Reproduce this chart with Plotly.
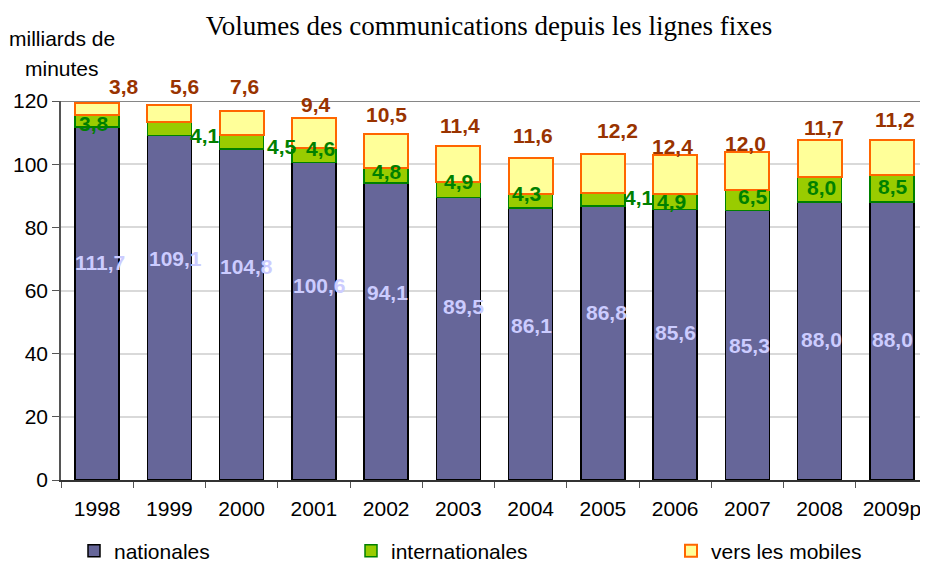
import plotly.graph_objects as go

# ---- data ----
years = ["1998", "1999", "2000", "2001", "2002", "2003", "2004", "2005",
         "2006", "2007", "2008", "2009p"]
nationales = [111.7, 109.1, 104.8, 100.6, 94.1, 89.5, 86.1, 86.8, 85.6, 85.3, 88.0, 88.0]
internationales = [3.8, 4.1, 4.5, 4.6, 4.8, 4.9, 4.3, 4.1, 4.9, 6.5, 8.0, 8.5]
mobiles = [3.8, 5.6, 7.6, 9.4, 10.5, 11.4, 11.6, 12.2, 12.4, 12.0, 11.7, 11.2]

# ---- label placement offsets (pixels, style only) ----
nat_dx = [3, 6, 5, 6, 1, 5, 1, 4, 0, 2, 2, 1]
nat_dy = [41, 49, 48, 36, 39, 32, 19, 30, 12, 0, 2, 2]
int_dx = [-3, 36, 40, 7, 1, 0, -4, 36, -4, 6, 2, 1]
int_dy = [-2, -7, -5, 7, 4, 8, 8, 2, 0, 4, 2, 2]
mob_dx = [27, 15, 3, 2, 0, 2, 2, 15, -3, -2, 4, 3]
mob_dy = [17, 18, 24, 14, 20, 20, 22, 24, 9, 9, 12, 20]

FONT = "Arial, Liberation Sans, sans-serif"
FS = 21

# page body has an 8px margin: figure is drawn from (8, 8)
OFF = 8
W, H = 928 - OFF, 562 - OFF


def fmt(v):
    return f"{v:.1f}".replace(".", ",")


fig = go.Figure()
fig.add_trace(go.Bar(x=years, y=nationales, name="nationales",
                     marker=dict(color="#666699", line=dict(color="#000000", width=1.5)),
                     legend="legend", showlegend=True))
fig.add_trace(go.Bar(x=years, y=internationales, name="internationales",
                     marker=dict(color="#99CC00", line=dict(color="#008000", width=1.5)),
                     legend="legend2", showlegend=True))
fig.add_trace(go.Bar(x=years, y=mobiles, name="vers les mobiles",
                     marker=dict(color="#FFFF99", line=dict(color="#FF6600", width=2)),
                     legend="legend3", showlegend=True))

ann = []
for i, yr in enumerate(years):
    n, it, m = nationales[i], internationales[i], mobiles[i]
    ann.append(dict(x=i, y=n / 2, text=fmt(n), showarrow=False,
                    xshift=nat_dx[i], yshift=nat_dy[i],
                    font=dict(family=FONT, size=FS, color="#CCCCFF", weight="bold")))
    ann.append(dict(x=i, y=n + it / 2, text=fmt(it), showarrow=False,
                    xshift=int_dx[i], yshift=int_dy[i],
                    font=dict(family=FONT, size=FS, color="#008000", weight="bold")))
    ann.append(dict(x=i, y=n + it + m, text=fmt(m), showarrow=False,
                    xshift=mob_dx[i], yshift=mob_dy[i],
                    font=dict(family=FONT, size=FS, color="#993300", weight="bold")))

ann.append(dict(xref="paper", yref="paper", x=0, y=1, xanchor="center", yanchor="middle",
                xshift=1, yshift=63, text="milliards de", showarrow=False,
                font=dict(family=FONT, size=FS, color="#000000")))
ann.append(dict(xref="paper", yref="paper", x=0, y=1, xanchor="center", yanchor="middle",
                xshift=1, yshift=33, text="minutes", showarrow=False,
                font=dict(family=FONT, size=FS, color="#000000")))

legend_common = dict(orientation="h", xref="container", yref="container",
                     yanchor="middle", xanchor="left", y=1 - (551 - OFF) / H,
                     font=dict(family=FONT, size=FS, color="#000000"),
                     bgcolor="rgba(0,0,0,0)", itemwidth=30, visible=True)

fig.update_layout(
    width=W, height=H,
    showlegend=True,
    margin=dict(l=61 - OFF, r=0, t=101 - OFF, b=H - (480 - OFF), autoexpand=False),
    barmode="stack", bargap=0.39,
    plot_bgcolor="white", paper_bgcolor="white",
    title=dict(text="Volumes des communications depuis les lignes fixes",
               x=(489 - OFF) / W, xanchor="center", xref="container",
               y=1 - (26 - OFF) / H, yanchor="middle", yref="container",
               font=dict(family="Times New Roman, Liberation Serif, serif", size=27, color="#000000")),
    xaxis=dict(type="category", range=[-0.5, 11.5], showgrid=False,
               showline=True, linecolor="#333333", linewidth=2,
               ticks="outside", tickson="boundaries", ticklen=6, tickcolor="#555555",
               ticklabelstandoff=9, tickangle=0,
               tickfont=dict(family=FONT, size=FS, color="#000000")),
    yaxis=dict(range=[0, 120], dtick=20, showgrid=True, gridcolor="#D9D9D9", gridwidth=1.5,
               showline=True, linecolor="#555555", linewidth=1.5,
               ticks="outside", ticklen=7, tickcolor="#555555",
               zeroline=False,
               tickfont=dict(family=FONT, size=FS, color="#000000")),
    annotations=ann,
    legend=dict(**legend_common, x=(74 - OFF) / W),
    legend2=dict(**legend_common, x=(351 - OFF) / W),
    legend3=dict(**legend_common, x=(671 - OFF) / W),
    shapes=[dict(type="line", xref="paper", yref="y", x0=0, x1=1, y0=120, y1=120,
                 line=dict(color="#868686", width=2), layer="below")],
)

fig.write_html("out.html")
